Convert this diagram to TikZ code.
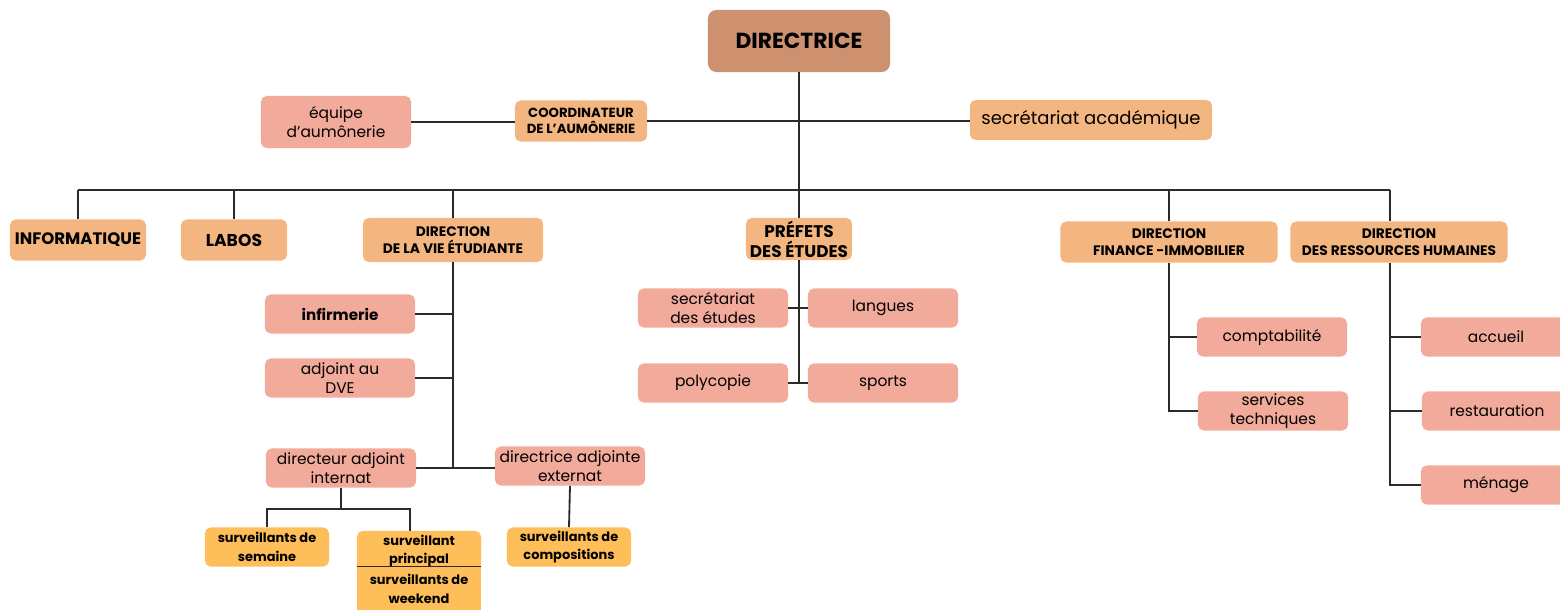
\documentclass[tikz,border=0pt]{standalone}
\usepackage{fontspec}
\setmainfont{Poppins}
\usepackage{tikz}
\usetikzlibrary{calc}
\definecolor{brun}{HTML}{CD9170}
\definecolor{orange}{HTML}{F4B680}
\definecolor{saumon}{HTML}{F2AA9A}
\definecolor{jaune}{HTML}{FEBE5A}
\definecolor{trait}{HTML}{2B2B2B}
\tikzstyle{head} = [rectangle, rounded corners=6pt, fill=brun, align=center,
    inner sep=0pt, font=\fontsize{15.5}{17}\selectfont\bfseries]
\tikzstyle{chef} = [rectangle, rounded corners=4pt, fill=orange, align=center,
    inner sep=0pt, minimum height=1.025cm, font=\fontsize{9.8}{12.3}\selectfont\bfseries]
\tikzstyle{service} = [rectangle, rounded corners=4pt, fill=saumon, align=center,
    inner sep=0pt, minimum width=3.75cm, minimum height=0.975cm,
    font=\fontsize{11}{13.4}\selectfont]
\tikzstyle{garde} = [rectangle, rounded corners=4pt, fill=jaune, align=center,
    inner sep=0pt, minimum width=3.1cm, minimum height=0.975cm,
    font=\fontsize{9.2}{13.2}\selectfont\bfseries]
\tikzstyle{line} = [draw=trait, line width=1.3pt]

\begin{document}
\begin{tikzpicture}[x=0.025cm, y=-0.025cm]
    \clip (0,0) rectangle (1560,610);
    % Nodes
    \node [head, minimum width=4.55cm, minimum height=1.55cm] (directrice) at (799,41) {DIRECTRICE};
    \node [chef, minimum width=6.05cm, minimum height=1cm, font=\fontsize{12.8}{15}\selectfont] (secacad) at (1091,120) {secrétariat académique};
    \node [chef, minimum width=3.3cm, font=\fontsize{9.4}{11.4}\selectfont\bfseries] (coord) at (581,121) {COORDINATEUR\\DE L\char39{}AUMÔNERIE};
    \node [service, minimum height=1.3cm] (equipe) at (336,122) {équipe\\d\char39{}aumônerie};

    \node [chef, minimum width=3.4cm, font=\fontsize{11.8}{14}\selectfont\bfseries] (informatique) at (78,240) {INFORMATIQUE};
    \node [chef, minimum width=2.65cm, font=\fontsize{12.2}{14}\selectfont\bfseries] (labos) at (234,240) {LABOS};
    \node [chef, minimum width=4.5cm, minimum height=1.1cm] (dve) at (453,240) {DIRECTION\\DE LA VIE ÉTUDIANTE};
    \node [chef, minimum width=2.65cm, minimum height=1.05cm, font=\fontsize{12}{14}\selectfont\bfseries] (prefets) at (799,239) {PRÉFETS\\DES ÉTUDES};
    \node [chef, minimum width=5.425cm] (finance) at (1169,242) {DIRECTION\\FINANCE -IMMOBILIER};
    \node [chef, minimum width=5.425cm] (rh) at (1399,242) {DIRECTION\\DES RESSOURCES HUMAINES};

    \node [service, font=\fontsize{10.8}{13}\selectfont\bfseries] (infirmerie) at (340,314) {infirmerie};
    \node [service] (adjoint) at (340,378) {adjoint au\\DVE};
    \node [service] (internat) at (341,468) {directeur adjoint\\internat};
    \node [service] (externat) at (570,466) {directrice adjointe\\externat};

    \node [garde] (semaine) at (267,547) {surveillants de\\semaine};
    \node [garde, minimum height=1cm] (principal) at (419,551) {surveillant\\principal};
    \node [garde, rounded corners=0pt, minimum height=1.1cm, text depth=0pt] (weekend) at (419,589) {surveillants de\\weekend};
    \node [garde] (compositions) at (569,547) {surveillants de\\compositions};

    \node [service] (secetudes) at (713,308) {secrétariat\\des études};
    \node [service] (langues) at (883,308) {langues};
    \node [service] (polycopie) at (713,383) {polycopie};
    \node [service] (sports) at (883,383) {sports};

    \node [service] (comptabilite) at (1272,337) {comptabilité};
    \node [service] (techniques) at (1273,411) {services\\techniques};

    \node [service] (accueil) at (1496,337) {accueil};
    \node [service] (restauration) at (1497,411) {restauration};
    \node [service] (menage) at (1496,485) {ménage};

    \coordinate (bus) at (799,190);
    \coordinate (rhstem) at (1390,190);
    \coordinate (intbus) at (341,509);
    \coordinate (principaltop) at (410,531);

    % Edges
    \draw [trait, line width=1pt] (principal.south west |- weekend.north) -- (principal.south east |- weekend.north);
    \path [line] (directrice.south) -- (bus);
    \path [line] (equipe) -- (equipe -| coord.west);
    \path [line] (coord) -- (coord -| secacad.west);
    \path [line] (informatique.north |- bus) -- (rhstem);
    \foreach \n in {informatique, labos, dve, prefets, finance}
        \path [line] (\n.north |- bus) -- (\n.north);
    \path [line] (rhstem) -- (rhstem |- rh.north);

    \path [line] (dve.south) -- (dve.south |- internat.east);
    \path [line] (infirmerie) -- (infirmerie -| dve.south);
    \path [line] (adjoint) -- (adjoint -| dve.south);
    \path [line] (internat) -- (internat -| externat.west);
    \path [line] (internat.south) -- (intbus);
    \path [line] (semaine.north) |- (intbus) -| (principaltop);
    \path [line] (externat.south) -- (compositions.north);

    \path [line] (prefets.south) -- (prefets.south |- sports.west);
    \path [line] (secetudes) -- (langues);
    \path [line] (polycopie) -- (sports);

    \path [line] (finance.south) |- (techniques);
    \path [line] (finance.south |- comptabilite) -- (comptabilite);

    \path [line] (rhstem |- rh.south) |- (menage);
    \path [line] (rhstem |- accueil) -- (accueil);
    \path [line] (rhstem |- restauration) -- (restauration);
\end{tikzpicture}
\end{document}
